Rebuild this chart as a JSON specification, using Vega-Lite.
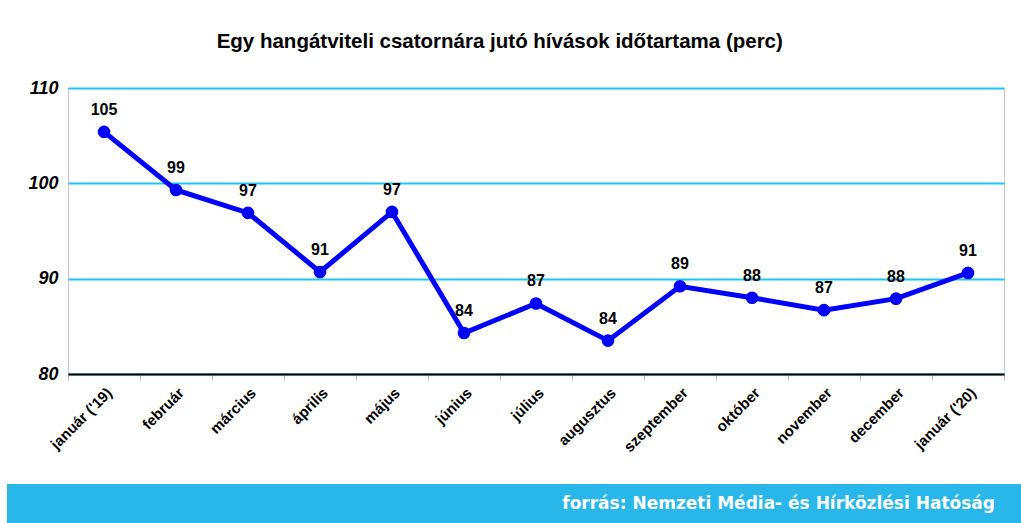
{
  "$schema": "https://vega.github.io/schema/vega-lite/v6.json",
  "background": "white",
  "padding": {"left": 7, "top": 31, "right": 0, "bottom": 0},
  "config": {
    "font": "Liberation Sans",
    "view": {"stroke": "#c8c8c8", "strokeWidth": 1}
  },
  "spacing": 28,
  "vconcat": [
    {
      "spacing": 0,
      "hconcat": [
        {
          "width": 1,
          "height": 1,
          "view": {"stroke": null},
          "data": {"values": []},
          "mark": {"type": "text"},
          "encoding": {}
        },
        {
          "width": 936,
          "height": 286,
          "title": {
            "text": "Egy hangátviteli csatornára jutó hívások időtartama (perc)",
            "fontSize": 20.5,
            "fontWeight": "bold",
            "font": "Liberation Sans",
            "color": "#000000",
            "anchor": "middle",
            "frame": "bounds",
            "dx": -7,
            "offset": 26
          },
          "data": {
            "values": [
              {"month": "január ('19)", "value": 105.4},
              {"month": "február", "value": 99.3},
              {"month": "március", "value": 96.9},
              {"month": "április", "value": 90.7},
              {"month": "május", "value": 97.0},
              {"month": "június", "value": 84.3},
              {"month": "július", "value": 87.4},
              {"month": "augusztus", "value": 83.5},
              {"month": "szeptember", "value": 89.2},
              {"month": "október", "value": 88.0},
              {"month": "november", "value": 86.7},
              {"month": "december", "value": 87.9},
              {"month": "január ('20)", "value": 90.6}
            ]
          },
          "encoding": {
            "x": {
              "field": "month",
              "type": "nominal",
              "sort": null,
              "scale": {"type": "band", "paddingInner": 0, "paddingOuter": 0},
              "axis": {
                "title": null,
                "labelAngle": -45,
                "labelFont": "Liberation Sans",
                "labelFontSize": 15,
                "labelFontWeight": "bold",
                "labelColor": "#000000",
                "labelPadding": 5,
                "tickBand": "extent",
                "ticks": true,
                "tickColor": "#b0b0b0",
                "tickSize": 6,
                "domainColor": "#000000",
                "domainWidth": 2,
                "grid": false
              }
            },
            "y": {
              "field": "value",
              "type": "quantitative",
              "scale": {"domain": [80, 110], "zero": false, "nice": false},
              "axis": {
                "title": ".",
                "titleColor": "#ffffff",
                "titleX": -59,
                "titleY": 0,
                "titleAngle": 0,
                "titleAlign": "left",
                "titleFontSize": 10,
                "values": [80, 90, 100, 110],
                "labelFont": "Liberation Sans",
                "labelFontSize": 18,
                "labelFontWeight": "bold",
                "labelFontStyle": "italic",
                "labelColor": "#000000",
                "labelPadding": 10,
                "ticks": false,
                "domain": false,
                "grid": true,
                "gridColor": "#1ac8f0",
                "gridWidth": 2
              }
            }
          },
          "layer": [
            {"mark": {"type": "line", "color": "#0000ff", "strokeWidth": 5}},
            {"mark": {"type": "point", "filled": true, "color": "#0000ff", "size": 160, "opacity": 1}},
            {
              "mark": {"type": "text", "dy": -22, "fontSize": 16, "fontWeight": "bold", "font": "Liberation Sans", "color": "#000000", "baseline": "middle"},
              "encoding": {"text": {"field": "value", "type": "quantitative", "format": ".0f"}}
            }
          ]
        }
      ]
    },
    {
      "width": 1014,
      "height": 40,
      "view": {"fill": "#29b6e8", "stroke": null},
      "data": {"values": [{"source": "forrás: Nemzeti Média- és Hírközlési Hatóság"}]},
      "mark": {"type": "text", "x": "width", "align": "right", "dx": -26, "baseline": "middle", "font": "DejaVu Sans", "fontWeight": "bold", "fontSize": 17, "color": "#ffffff"},
      "encoding": {"text": {"field": "source", "type": "nominal"}}
    }
  ]
}
